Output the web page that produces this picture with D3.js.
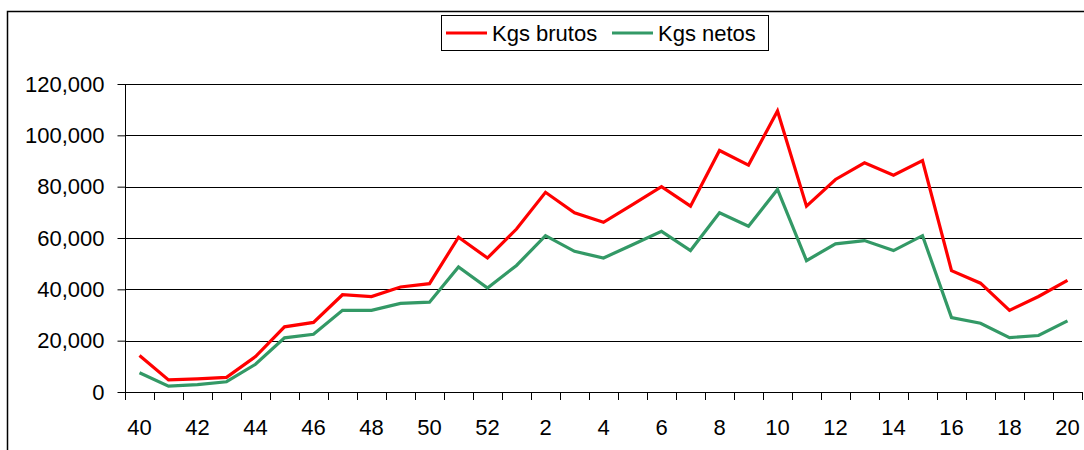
<!DOCTYPE html>
<html>
<head>
<meta charset="utf-8">
<script src="https://cdn.jsdelivr.net/npm/d3@7"></script>
<style>
  body { margin: 0; background: #fff; }
  svg { display: block; font-family: "Liberation Sans", Arial, sans-serif; }
</style>
</head>
<body>
<div id="chart"></div>
<script>
// week numbers along the x axis (season spans the new year)
const weeks = [40, 41, 42, 43, 44, 45, 46, 47, 48, 49, 50, 51, 52,
  1, 2, 3, 4, 5, 6, 7, 8, 9, 10, 11, 12, 13, 14, 15, 16, 17, 18, 19, 20];
const kgsBrutos = [14200, 4700, 5100, 5700, 13800, 25400, 27100, 37900, 37200, 40900, 42200, 60300, 52200,
  63500, 77800, 69800, 66100, 73000, 80000, 72400, 94100, 88400, 109500, 72400, 82800, 89300, 84500, 90200,
  47300, 42400, 31800, 37200, 43500];
const kgsNetos = [7500, 2300, 2900, 4000, 10800, 21100, 22500, 31800, 31800, 34500, 35000, 48700, 40500,
  49300, 60900, 54800, 52200, 57400, 62600, 55100, 69800, 64600, 78900, 51200, 57700, 59000, 55100, 60900,
  29000, 26800, 21200, 22000, 27700];
const yTicks = [0, 20000, 40000, 60000, 80000, 100000, 120000];
const seriesNames = [`Kgs brutos`, `Kgs netos`];
const seriesColors = [`#ff0000`, `#339966`];

const width = 1084, height = 450;
const plot = { left: 125, right: 1082, top: 84, bottom: 392 };

const svg = d3.select(`#chart`).append(`svg`)
    .attr(`width`, width)
    .attr(`height`, height);

// chart frame (runs off the right and bottom edges)
svg.append(`rect`)
    .attr(`x`, 7.5).attr(`y`, 11.5)
    .attr(`width`, 1200).attr(`height`, 600)
    .attr(`fill`, `none`)
    .attr(`stroke`, `#000`)
    .attr(`stroke-width`, 1.5);

const x = d3.scaleBand()
    .domain(weeks.map((d, i) => i))
    .range([plot.left, plot.right])
    .paddingInner(0).paddingOuter(0);

const y = d3.scaleLinear()
    .domain([0, 120000])
    .range([plot.bottom, plot.top]);

const cx = (i) => x(i) + x.bandwidth() / 2;

// gridlines
svg.append(`g`)
  .selectAll(`line`)
  .data(yTicks.filter((d) => d > 0))
  .enter().append(`line`)
    .attr(`x1`, plot.left).attr(`x2`, plot.right)
    .attr(`y1`, (d) => Math.round(y(d)) + 0.5)
    .attr(`y2`, (d) => Math.round(y(d)) + 0.5)
    .attr(`stroke`, `#000`)
    .attr(`stroke-width`, 1);

// y axis
const yAxis = svg.append(`g`)
    .attr(`transform`, `translate(${plot.left + 0.5},0)`)
    .call(d3.axisLeft(y).tickValues(yTicks).tickSize(8).tickPadding(13)
      .tickFormat(d3.format(`,`)));
yAxis.selectAll(`path, line`).attr(`stroke`, `#000`);
yAxis.select(`.domain`).attr(`d`, `M0,${plot.top}V${plot.bottom}`);
yAxis.selectAll(`text`)
    .attr(`font-size`, 22)
    .attr(`fill`, `#000`)
    .attr(`font-family`, `"Liberation Sans", Arial, sans-serif`);

// x axis: baseline, ticks between categories, labels on every other week
const xAxis = svg.append(`g`);
xAxis.append(`line`)
    .attr(`x1`, plot.left).attr(`x2`, plot.right)
    .attr(`y1`, plot.bottom + 0.5).attr(`y2`, plot.bottom + 0.5)
    .attr(`stroke`, `#000`);
xAxis.selectAll(`.tick`)
    .data(d3.range(weeks.length + 1))
  .enter().append(`line`)
    .attr(`class`, `tick`)
    .attr(`x1`, (i) => Math.round(plot.left + i * x.bandwidth()) + 0.5)
    .attr(`x2`, (i) => Math.round(plot.left + i * x.bandwidth()) + 0.5)
    .attr(`y1`, plot.bottom).attr(`y2`, plot.bottom + 8)
    .attr(`stroke`, `#000`);
xAxis.selectAll(`text`)
    .data(weeks.map((w, i) => ({ w, i })).filter((d) => d.i % 2 === 0))
  .enter().append(`text`)
    .attr(`x`, (d) => cx(d.i))
    .attr(`y`, 435)
    .attr(`text-anchor`, `middle`)
    .attr(`font-size`, 22)
    .text((d) => d.w);

// lines
const line = d3.line()
    .x((d, i) => cx(i))
    .y((d) => y(d));

[kgsBrutos, kgsNetos].forEach((values, s) => {
  svg.append(`path`)
      .datum(values)
      .attr(`d`, line)
      .attr(`fill`, `none`)
      .attr(`stroke`, seriesColors[s])
      .attr(`stroke-width`, 3.2)
      .attr(`stroke-linejoin`, `miter`);
});

// legend
const legend = svg.append(`g`);
legend.append(`rect`)
    .attr(`x`, 441.5).attr(`y`, 15.5)
    .attr(`width`, 327).attr(`height`, 35)
    .attr(`fill`, `#fff`)
    .attr(`stroke`, `#000`);
const legendX = [446, 612];
seriesNames.forEach((name, s) => {
  legend.append(`line`)
      .attr(`x1`, legendX[s]).attr(`x2`, legendX[s] + 41)
      .attr(`y1`, 33).attr(`y2`, 33)
      .attr(`stroke`, seriesColors[s])
      .attr(`stroke-width`, 3.2);
  legend.append(`text`)
      .attr(`x`, legendX[s] + 46)
      .attr(`y`, 41)
      .attr(`font-size`, 22)
      .text(name);
});
</script>
</body>
</html>
